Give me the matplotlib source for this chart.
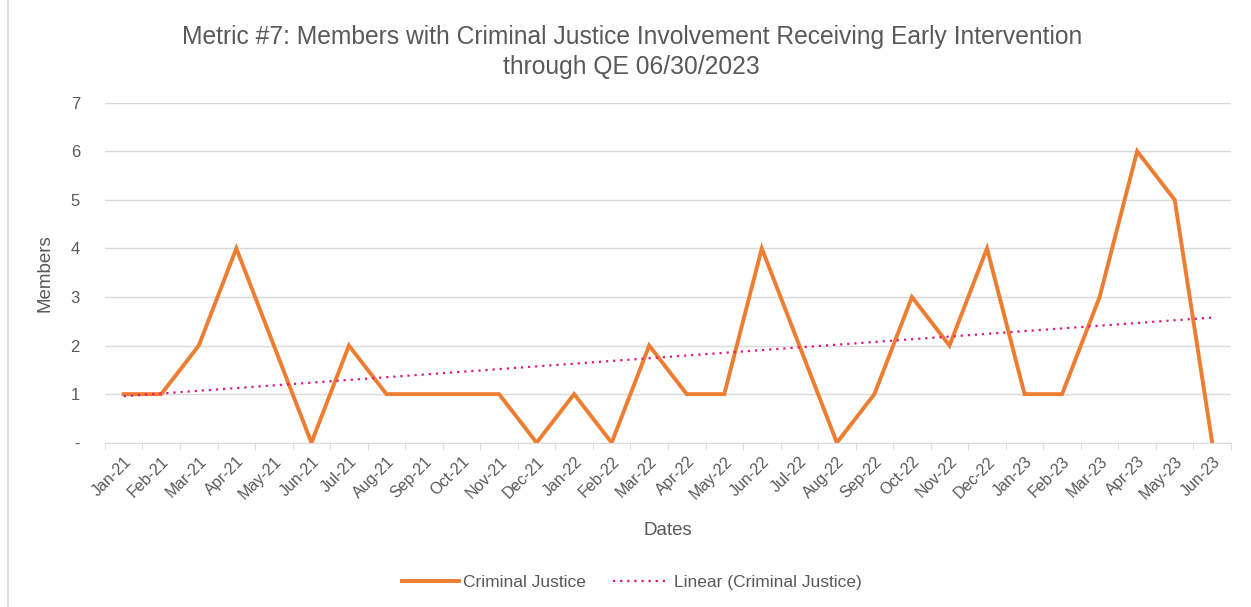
import numpy as np
import matplotlib.pyplot as plt
from matplotlib.patches import Rectangle

plt.rcParams['font.family'] = ['Liberation Sans', 'DejaVu Sans']

months = ['Jan-21', 'Feb-21', 'Mar-21', 'Apr-21', 'May-21', 'Jun-21', 'Jul-21', 'Aug-21',
          'Sep-21', 'Oct-21', 'Nov-21', 'Dec-21', 'Jan-22', 'Feb-22', 'Mar-22', 'Apr-22',
          'May-22', 'Jun-22', 'Jul-22', 'Aug-22', 'Sep-22', 'Oct-22', 'Nov-22', 'Dec-22',
          'Jan-23', 'Feb-23', 'Mar-23', 'Apr-23', 'May-23', 'Jun-23']
members = [1, 1, 2, 4, 2, 0, 2, 1, 1, 1, 1, 0, 1, 0, 2, 1, 1, 4, 2, 0,
           1, 3, 2, 4, 1, 1, 3, 6, 5, 0]
y_ticks = [0, 1, 2, 3, 4, 5, 6, 7]
y_labels = ['-', '1', '2', '3', '4', '5', '6', '7']

grey = '#595959'

x = np.arange(len(months))
slope, icpt = np.polyfit(x, members, 1)
trend = slope * x + icpt

fig = plt.figure(figsize=(12.51, 6.07), dpi=100)
ax = fig.add_axes([0.0839, 0.2707, 0.9001, 0.5601])

ax.plot(x, members, color='#ED7D31', lw=2.8, solid_joinstyle='miter',
        label='Criminal Justice', zorder=3)
ax.plot(x, trend, color='#E0197E', lw=1.6, linestyle=(0, (1, 2.2)),
        label='Linear (Criminal Justice)', zorder=4)

ax.set_xlim(-0.5, len(months) - 0.5)
ax.set_ylim(0, 7)
ax.set_yticks(y_ticks)
ax.set_yticklabels(y_labels)
ax.set_xticks(x)
ax.set_xticklabels(months, rotation=45, ha='right', rotation_mode='anchor')
ax.set_xticks(np.arange(-0.5, len(months)), minor=True)
ax.tick_params(axis='x', which='major', length=0, pad=8, labelsize=11.5, colors=grey)
ax.tick_params(axis='x', which='minor', length=5, color='#D9D9D9')
ax.tick_params(axis='y', length=0, pad=18, labelsize=12, colors=grey)
ax.grid(axis='y', color='#D9D9D9', lw=1)
ax.set_axisbelow(True)
for s in ['top', 'right', 'left']:
    ax.spines[s].set_visible(False)
ax.spines['bottom'].set_color('#D9D9D9')

ax.set_xlabel('Dates', fontsize=13.5, color=grey, labelpad=14)
ax.set_ylabel('Members', fontsize=13.5, color=grey, labelpad=12)
fig.text(0.505, 0.914, 'Metric #7: Members with Criminal Justice Involvement Receiving Early Intervention\nthrough QE 06/30/2023',
         ha='center', va='center', fontsize=17.7, color=grey, linespacing=1.32)

leg = fig.legend(loc='center', bbox_to_anchor=(0.505, 0.04), ncol=2, frameon=False,
                 fontsize=12.5, handlelength=3.3, handletextpad=0.2, columnspacing=1.6)
for t in leg.get_texts():
    t.set_color(grey)

fig.patches.append(Rectangle((0.006, -0.01), 1.0, 1.02, transform=fig.transFigure,
                             fill=False, edgecolor='#D9D9D9', lw=1.2))

fig.savefig('out.png', dpi=100)
